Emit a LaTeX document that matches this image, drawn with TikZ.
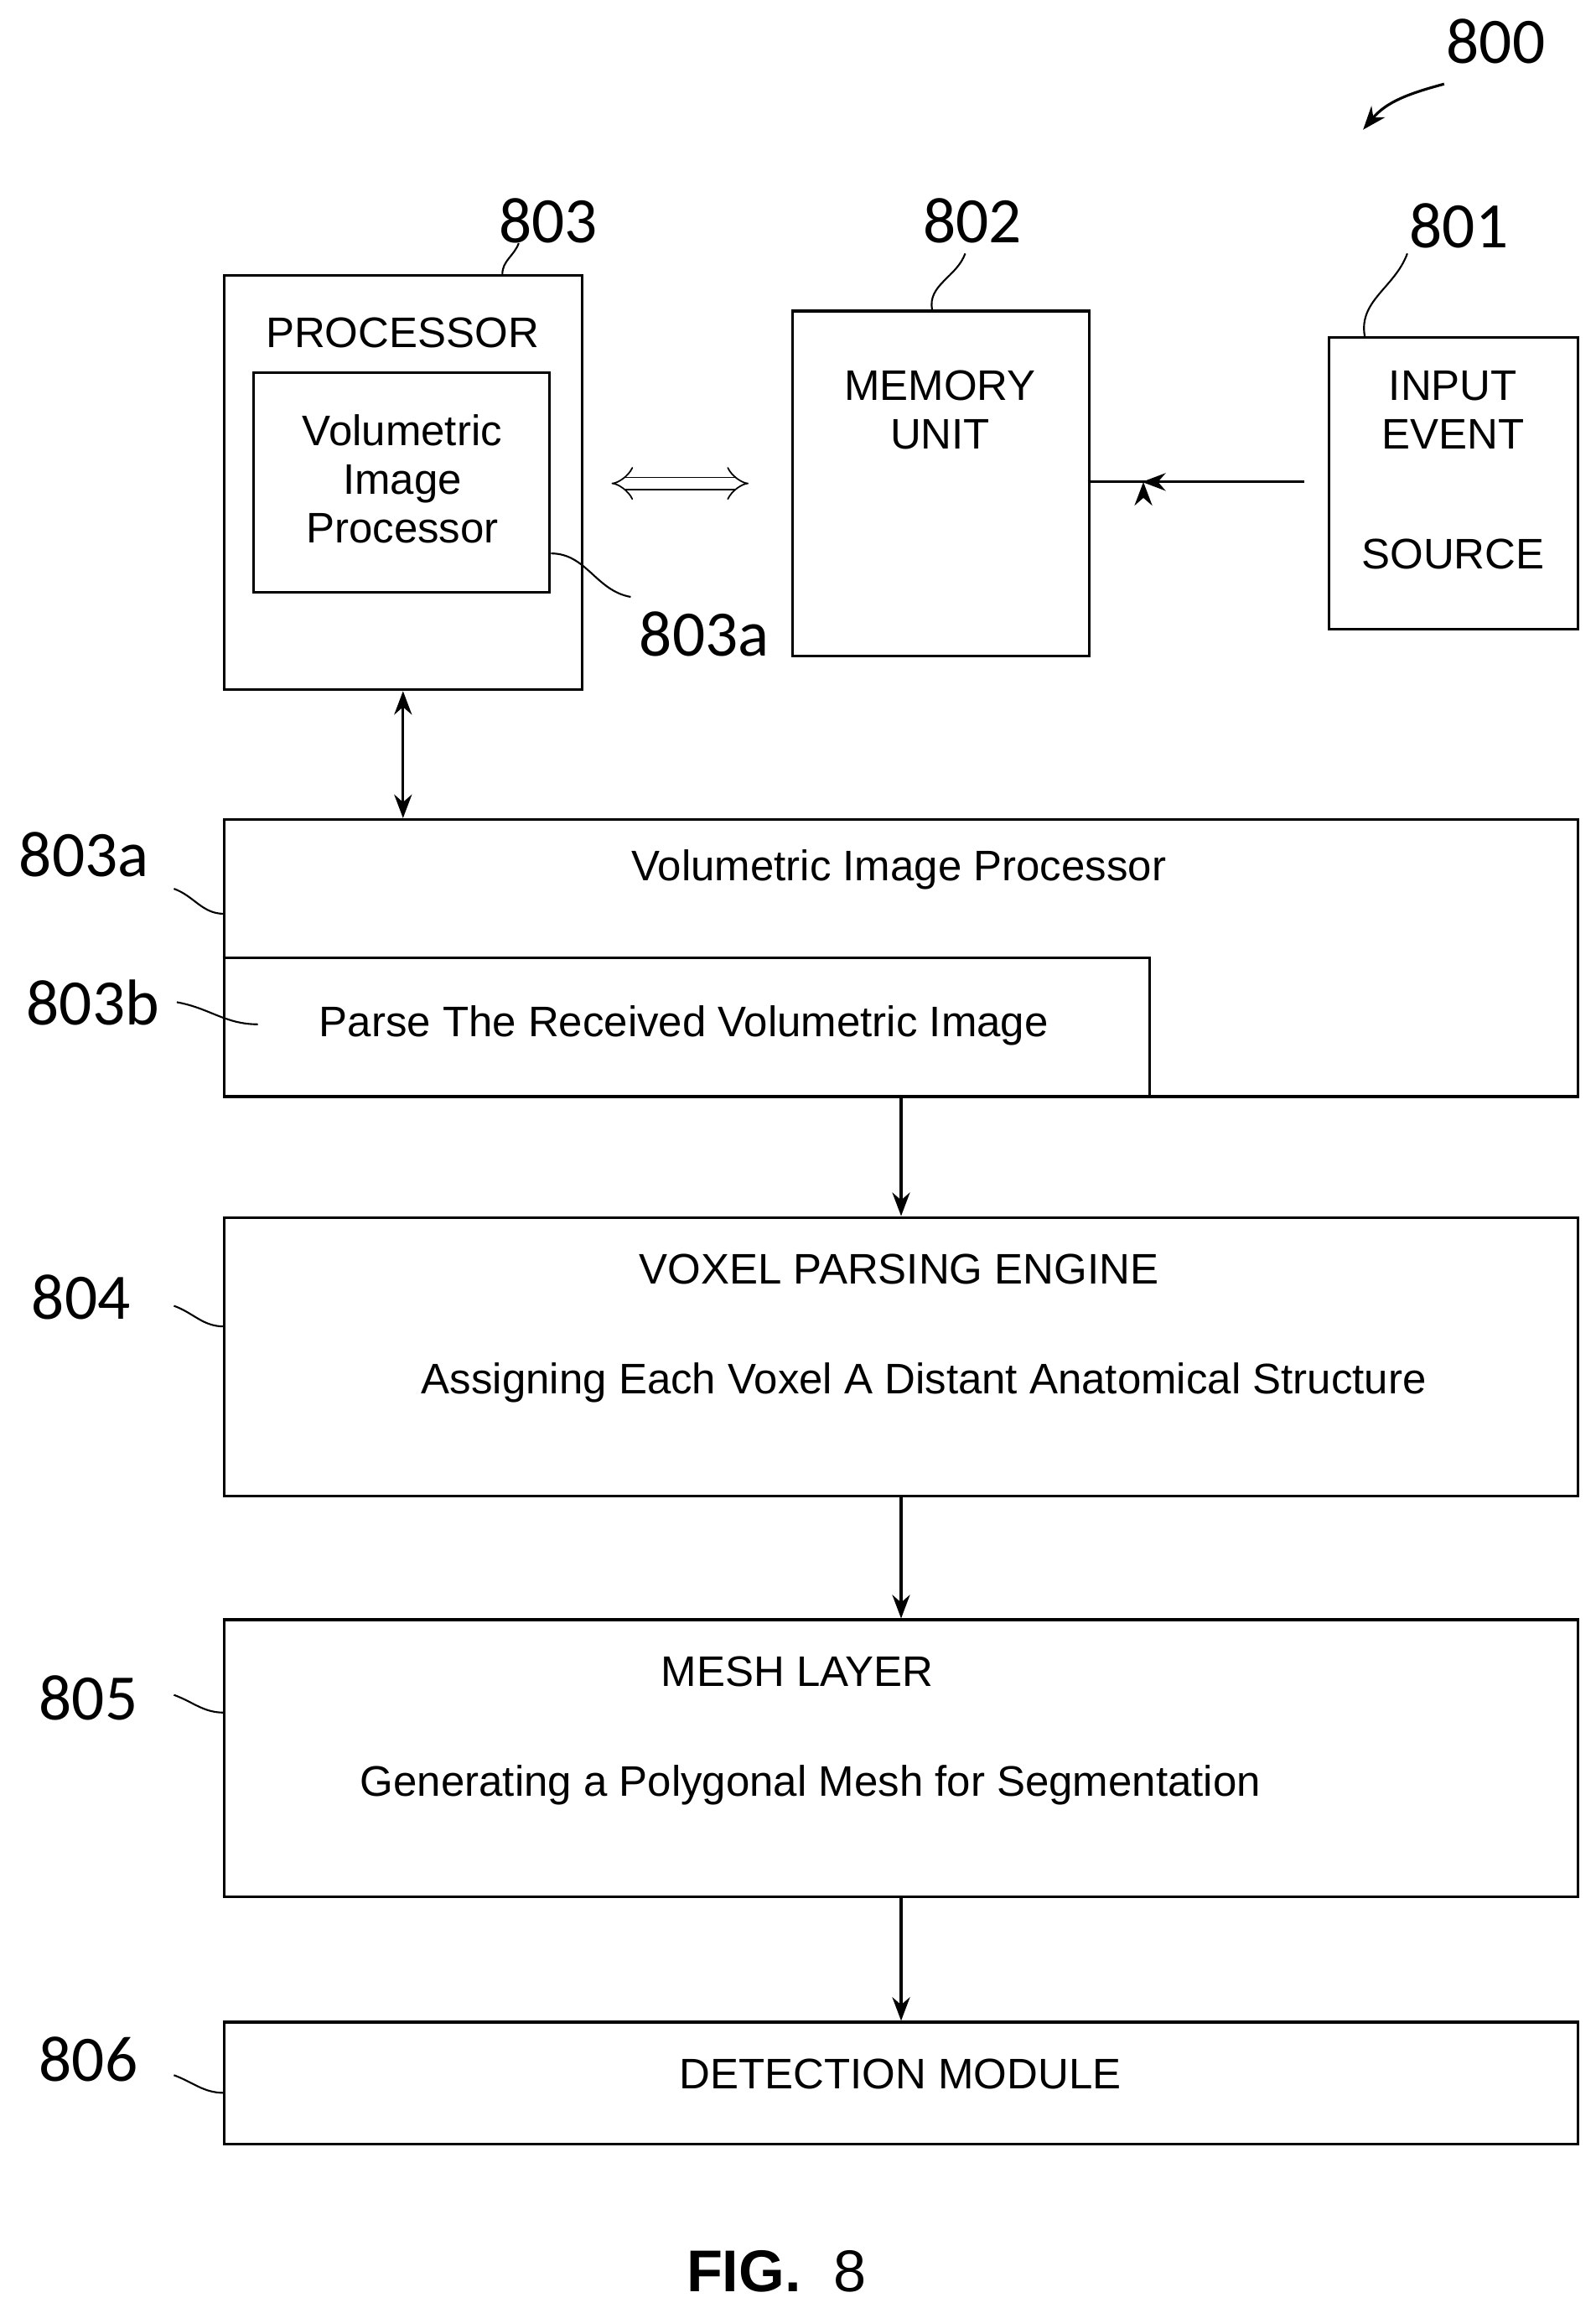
\documentclass[tikz,border=0pt]{standalone}
\usepackage{fontspec}
\setmainfont{Liberation Sans}
\newfontfamily\numfont{Carlito}
\usetikzlibrary{arrows,arrows.meta,positioning}
\tikzset{
  box/.style={draw, line width=1.8pt, rectangle, inner sep=0pt},
  txt/.style={font=\fontsize{29}{35}\selectfont, align=center},
  ref/.style={font=\numfont\fontsize{44}{48}\selectfont},
  lead/.style={line width=1.2pt},
  flow/.style={line width=1.8pt, -{Stealth[length=16pt,width=12pt]}}
}
\begin{document}
\begin{tikzpicture}[x=1pt, y=-1pt]
  \useasboundingbox (0,0) rectangle (1083,1566);
  % top blocks
  \node[box, minimum width=243pt, minimum height=281pt] (proc) at (273.5,327.5) {};
  \node[txt] at (273,226) {PROCESSOR};
  \node[box, minimum width=201pt, minimum height=149pt] (vip) at (272.5,327.5) {};
  \node[txt] at (273,325) {Volumetric\\[-2pt]Image\\[-2pt]Processor};
  \node[box, minimum width=201pt, minimum height=234pt] (mem) at (638.5,328) {};
  \node[txt] at (638,278) {MEMORY\\[-2pt]UNIT};
  \node[box, minimum width=169pt, minimum height=198pt] (src) at (986.5,328) {};
  \node[txt] at (986,278) {INPUT\\[-2pt]EVENT};
  \node[txt] at (986,376) {SOURCE};
  % reference numerals
  \node[ref] (n800) at (1015,28) {800};
  \node[ref] (n803) at (372,150) {803};
  \node[ref] (n802) at (660,150) {802};
  \node[ref] (n801) at (990,153) {801};
  \node[ref] (n803a) at (478,430) {803a};
  \draw[line width=1.8pt, -{Stealth[length=16pt,width=12pt]}] (980,57) to[out=195,in=50] (925,88);
  \draw[lead] (proc.north east) ++(-55,0) to[out=90,in=250] (352,165);
  \draw[lead] (mem.north) ++(-6,0) to[out=100,in=250] (655,172);
  \draw[lead] (src.north west) ++(25,0) to[out=100,in=250] (955,172);
  \draw[lead] (vip.east) ++(0,48) to[out=0,in=170] (428,405);
  % connectors
  \draw[line width=1pt, double distance=7pt, {Implies}-{Implies}] (415,328) -- (508,328);
  \draw[flow] (885,327) -- (mem.east |- 0,327) ++(36,0);
  \draw[flow] (885,327) -- (775,327);
  % lower blocks
  \node[box, minimum width=919pt, minimum height=188pt] (parse) at (611.5,650) {};
  \node[txt] at (610,590) {Volumetric Image Processor};
  \node[box, minimum width=628pt, minimum height=94pt] (parsein) at (466,697) {};
  \node[txt] at (464,696) {Parse The Received Volumetric Image};
  \node[box, minimum width=919pt, minimum height=189pt] (voxel) at (611.5,920.5) {};
  \node[txt] at (610,861) {VOXEL PARSING ENGINE};
  \node[txt] at (627,938) {Assigning Each Voxel A Distant Anatomical Structure};
  \node[box, minimum width=919pt, minimum height=188pt] (mesh) at (611.5,1193) {};
  \node[txt] at (541,1134) {MESH LAYER};
  \node[txt] at (550,1211) {Generating a Polygonal Mesh for Segmentation};
  \node[box, minimum width=919pt, minimum height=83pt] (detect) at (611.5,1413.5) {};
  \node[txt] at (611,1407) {DETECTION MODULE};
  \node[ref] (n803a2) at (57,580) {803a};
  \node[ref] (n803b) at (63,680) {803b};
  \node[ref] (n804) at (55,880) {804};
  \node[ref] (n805) at (60,1152) {805};
  \node[ref] (n806) at (60,1397) {806};
  \draw[lead] (118,603) to[out=-20,in=180] (152,620);
  \draw[lead] (120,680) to[out=-10,in=180] (175,695);
  \draw[lead] (118,886) to[out=-20,in=180] (152,900);
  \draw[lead] (118,1150) to[out=-20,in=180] (152,1162);
  \draw[lead] (118,1408) to[out=-20,in=180] (152,1420);
  \draw[line width=1.8pt, {Stealth[length=16pt,width=12pt]}-{Stealth[length=16pt,width=12pt]}] (proc.south) -- (parse.north -| proc.south);
  \draw[flow] (parse.south) -- (voxel.north);
  \draw[flow] (voxel.south) -- (mesh.north);
  \draw[flow] (mesh.south) -- (detect.north);
  \node[font=\fontsize{40}{44}\selectfont] (fig) at (527,1541) {\textbf{FIG.}\ \ 8};
\end{tikzpicture}
\end{document}
